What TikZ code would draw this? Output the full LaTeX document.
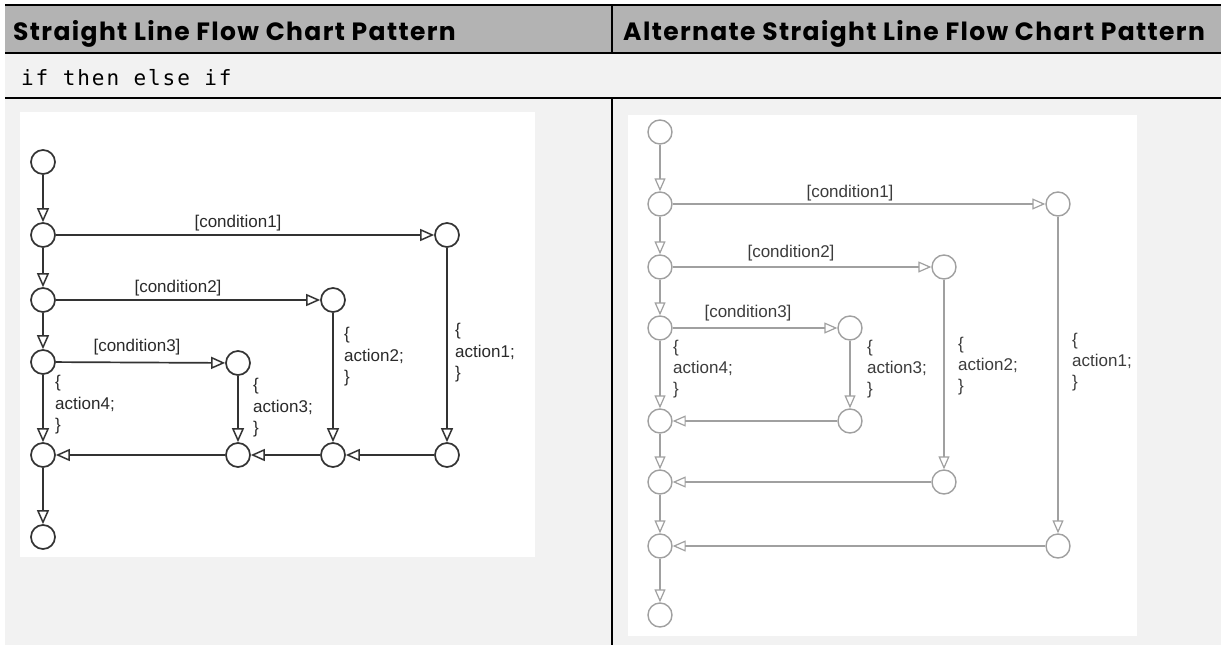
\documentclass[tikz,border=0pt]{standalone}
\usepackage{fontspec}
\setmainfont{Liberation Sans}
\newfontfamily\hdrfont[LetterSpace=5.5]{Poppins}
\newfontfamily\codefont[LetterSpace=9]{DejaVu Sans Mono}
\usetikzlibrary{arrows.meta}
\definecolor{hdrgray}{HTML}{B3B3B3}
\definecolor{rowgray}{HTML}{F2F2F2}
\definecolor{ldark}{HTML}{333333}
\definecolor{ltext}{HTML}{2A2A2A}
\definecolor{rgray}{HTML}{A0A0A0}
\definecolor{rtext}{HTML}{3C3C3C}
\tikzset{
  lst/.style={circle, draw=ldark, line width=1.7pt, minimum size=24pt, inner sep=0pt, fill=white},
  rst/.style={circle, draw=rgray, line width=1.4pt, minimum size=24pt, inner sep=0pt, fill=white},
  ledge/.style={draw=ldark, line width=1.7pt, -{Triangle[open, length=14pt, width=12pt, line width=1.5pt]}},
  redge/.style={draw=rgray, line width=1.4pt, -{Triangle[open, length=13pt, width=11pt, line width=1.2pt]}},
  llbl/.style={font=\fontsize{17}{21.5}\selectfont, text=ltext, inner sep=0pt, align=left},
  rlbl/.style={font=\fontsize{17}{21}\selectfont, text=rtext, inner sep=0pt, align=left},
  hdr/.style={font=\hdrfont\bfseries\fontsize{25}{28}\selectfont, inner sep=0pt, anchor=base west},
  rule/.style={line width=2pt, draw=black}
}
\begin{document}
\begin{tikzpicture}[x=1pt,y=-1pt]
\useasboundingbox (0,0) rectangle (1221,645);
\fill[white] (0,0) rectangle (1221,645);
% table backgrounds
\fill[hdrgray] (5,5) rectangle (1221,53);
\fill[rowgray] (5,53) rectangle (1221,645);
\fill[white] (20,112) rectangle (535,557);
\fill[white] (628,115) rectangle (1137,636);
% rules
\draw[line width=1.6pt] (5,4.8) -- (1221,4.8);
\draw[rule] (5,53) -- (1221,53);
\draw[rule] (5,98) -- (1221,98);
\draw[rule] (612,5) -- (612,53);
\draw[rule] (612,98) -- (612,645);
% header texts
\node[hdr] (h1) at (13,40) {Straight Line Flow Chart Pattern};
\node[hdr] (h2) at (623,40) {Alternate Straight Line Flow Chart Pattern};
\node[font=\codefont\fontsize{21}{24}\selectfont, inner sep=0pt, anchor=base west] (code) at (21,85) {if then else if};

% ===== Left diagram =====
\node[lst] (ls0) at (43,162) {};
\node[lst] (lc1) at (43,235) {};
\node[lst] (lc2) at (43,300) {};
\node[lst] (lc3) at (43,362) {};
\node[lst] (lj)  at (43,455) {};
\node[lst] (le)  at (43,537) {};
\node[lst] (lt1) at (447,235) {};
\node[lst] (lt2) at (333,300) {};
\node[lst] (lt3) at (238,363) {};
\node[lst] (lb1) at (447,455) {};
\node[lst] (lb2) at (333,455) {};
\node[lst] (lb3) at (238,455) {};
\draw[ledge] (ls0) -- (lc1);
\draw[ledge] (lc1) -- (lc2);
\draw[ledge] (lc2) -- (lc3);
\draw[ledge] (lc3) -- (lj);
\draw[ledge] (lj) -- (le);
\draw[ledge] (lc1) -- (lt1);
\draw[ledge] (lc2) -- (lt2);
\draw[ledge] (lc3) -- (lt3);
\draw[ledge] (lt1) -- (lb1);
\draw[ledge] (lt2) -- (lb2);
\draw[ledge] (lt3) -- (lb3);
\draw[ledge] (lb1) -- (lb2);
\draw[ledge] (lb2) -- (lb3);
\draw[ledge] (lb3) -- (lj);
\node[llbl] (lk1) at (238,223) {[condition1]};
\node[llbl] (lk2) at (178,288) {[condition2]};
\node[llbl] (lk3) at (137,347) {[condition3]};
\node[llbl, anchor=west] (la1) at (455,353) {\{\\action1;\\\}};
\node[llbl, anchor=west] (la2) at (344,357) {\{\\action2;\\\}};
\node[llbl, anchor=west] (la3) at (253,408) {\{\\action3;\\\}};
\node[llbl, anchor=west] (la4) at (55,405) {\{\\action4;\\\}};

% ===== Right diagram =====
\node[rst] (rs0) at (660,132) {};
\node[rst] (rc1) at (660,204) {};
\node[rst] (rc2) at (660,267) {};
\node[rst] (rc3) at (660,328) {};
\node[rst] (rj3) at (660,421) {};
\node[rst] (rj2) at (660,482) {};
\node[rst] (rj1) at (660,546) {};
\node[rst] (re)  at (660,615) {};
\node[rst] (rt1) at (1058,204) {};
\node[rst] (rt2) at (944,267) {};
\node[rst] (rt3) at (850,328) {};
\node[rst] (rb3) at (850,421) {};
\node[rst] (rb2) at (944,482) {};
\node[rst] (rb1) at (1058,546) {};
\draw[redge] (rs0) -- (rc1);
\draw[redge] (rc1) -- (rc2);
\draw[redge] (rc2) -- (rc3);
\draw[redge] (rc3) -- (rj3);
\draw[redge] (rj3) -- (rj2);
\draw[redge] (rj2) -- (rj1);
\draw[redge] (rj1) -- (re);
\draw[redge] (rc1) -- (rt1);
\draw[redge] (rc2) -- (rt2);
\draw[redge] (rc3) -- (rt3);
\draw[redge] (rt3) -- (rb3);
\draw[redge] (rt2) -- (rb2);
\draw[redge] (rt1) -- (rb1);
\draw[redge] (rb3) -- (rj3);
\draw[redge] (rb2) -- (rj2);
\draw[redge] (rb1) -- (rj1);
\node[rlbl] (rk1) at (850,193) {[condition1]};
\node[rlbl] (rk2) at (791,253) {[condition2]};
\node[rlbl] (rk3) at (748,313) {[condition3]};
\node[rlbl, anchor=west] (ra4) at (673,369) {\{\\action4;\\\}};
\node[rlbl, anchor=west] (ra3) at (867,369) {\{\\action3;\\\}};
\node[rlbl, anchor=west] (ra2) at (958,366) {\{\\action2;\\\}};
\node[rlbl, anchor=west] (ra1) at (1072,362) {\{\\action1;\\\}};
\end{tikzpicture}
\end{document}
